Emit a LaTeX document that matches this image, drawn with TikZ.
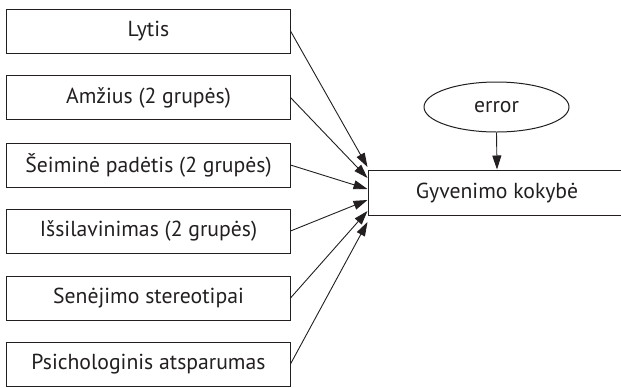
\documentclass[tikz,border=0pt]{standalone}
\usepackage{fontspec}
\setmainfont{PT Sans}
\usetikzlibrary{arrows.meta,shapes.geometric}
\definecolor{ink}{RGB}{35,31,32}
\begin{document}
\begin{tikzpicture}[x=1bp,y=-1bp,
  lbl/.style={text=ink, font=\fontsize{21.7bp}{24bp}\selectfont},
  box/.style={draw=ink, line width=1bp, minimum width=283bp, minimum height=44bp, inner sep=0pt, lbl},
  conn/.style={draw=ink, line width=0.9bp, -{Triangle[length=14bp,width=9bp]}}]
\useasboundingbox (0,0) rectangle (621,387);
\node[box] (b1) at (148.5,31) {Lytis};
\node[box] (b2) at (148.5,97.5) {Amžius (2 grupės)};
\node[box] (b3) at (148.5,165) {Šeiminė padėtis (2 grupės)};
\node[box] (b4) at (148.5,231) {Išsilavinimas (2 grupės)};
\node[box] (b5) at (148.5,298) {Senėjimo stereotipai};
\node[box] (b6) at (148.5,364) {Psichologinis atsparumas};
\begin{scope}
\clip (0,0) rectangle (621,387);
\node[box, minimum width=258bp, minimum height=45bp] (tgt) at (497,192.5) {Gyvenimo kokybė};
\end{scope}
\node[draw=ink, ellipse, line width=1bp, minimum width=145bp, minimum height=50bp, inner sep=0pt, lbl] (err) at (496.5,107) {error};
\coordinate (t1) at (367.5,167);
\coordinate (t2) at (367.5,178);
\coordinate (t3) at (367.5,189);
\coordinate (t4) at (367.5,200);
\coordinate (t5) at (367.5,211);
\coordinate (t6) at (367.5,222);
\draw[conn] (b1.east) -- (t1);
\draw[conn] (b2.east) -- (t2);
\draw[conn] (b3.east) -- (t3);
\draw[conn] (b4.east) -- (t4);
\draw[conn] (b5.east) -- (t5);
\draw[conn] (b6.east) -- (t6);
\draw[conn] (err.south) -- (tgt.north);
\end{tikzpicture}
\end{document}
